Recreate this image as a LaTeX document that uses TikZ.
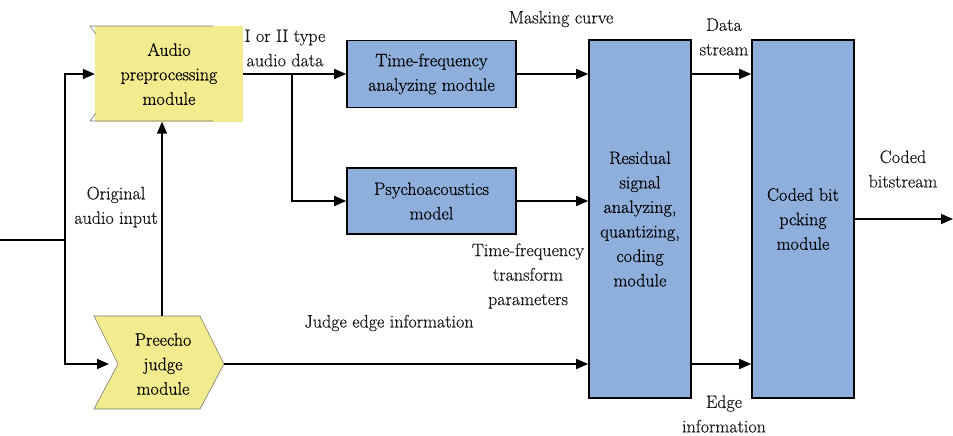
\documentclass[tikz,border=0pt]{standalone}
\usepackage{fontspec}
\newfontfamily\diagfont{Latin Modern Roman}[FakeBold=0.5]
\usetikzlibrary{arrows.meta}
\definecolor{padyellow}{RGB}{243,236,142}
\definecolor{modblue}{RGB}{142,174,219}
\definecolor{edgegray}{RGB}{120,120,120}
\begin{document}
\begin{tikzpicture}[x=1pt,y=-1pt,
  font=\diagfont\fontsize{18}{24.5}\selectfont,
  wire/.style={line width=1.6pt},
  flow/.style={line width=1.6pt, -{Triangle[length=12pt,width=10pt]}},
  bluebox/.style={draw=black, line width=1.6pt, fill=modblue, align=center, inner sep=0pt},
  lbl/.style={align=center, inner sep=0pt, text=black!90}]
\useasboundingbox (0,0) rectangle (953,436);

% audio preprocessing module (yellow pad with notched outline)
\node[fill=padyellow, minimum width=148, minimum height=95, inner sep=0pt, align=center] (pre) at (169,74) {Audio\\preprocessing\\module};
\draw[edgegray, line width=0.6pt] (90,26) -- (213,26) (90,121) -- (213,121)
  (90,26) -- (96,34) (90,121) -- (96,113);

% preecho judge module (chevron)
\draw[edgegray, line width=0.6pt, fill=padyellow]
  (94,316) -- (200,316) -- (224,364) -- (200,409) -- (94,409) -- (118,364) -- cycle;
\node[align=center, inner sep=0pt] (pj) at (163,364) {Preecho\\judge\\module};
\coordinate (pjL) at (118,364);
\coordinate (pjR) at (224,364);
\coordinate (pjT) at (162,316);

% blue modules
\node[bluebox, minimum width=169, minimum height=67] (tf) at (431.5,74) {Time-frequency\\analyzing module};
\node[bluebox, minimum width=169, minimum height=66] (pa) at (431.5,201) {Psychoacoustics\\model};
\node[bluebox, minimum width=102, minimum height=358] (res) at (640,219) {Residual\\signal\\analyzing,\\quantizing,\\coding\\module};
\node[bluebox, minimum width=102, minimum height=358] (cb) at (803,219) {Coded bit\\pcking\\module};

% connectors
\coordinate (in) at (0,240);
\coordinate (split) at (65,240);
\coordinate (br) at (292,74);
\coordinate (out) at (953,219);
\draw[wire] (in) -- (split);
\draw[flow] (split) |- (pre.west);
\draw[flow, shorten >=9pt] (split) |- (pjL);
\draw[flow] (pjT) -- (pjT |- pre.south);
\draw[flow] (pjR) -- (pjR -| res.west);
\draw[flow] (pre.east) -- (tf.west);
\draw[flow] (br) |- (pa.west);
\draw[flow] (tf.east) -- (tf.east -| res.west);
\draw[flow] (pa.east) -- (pa.east -| res.west);
\draw[flow] (res.east |- tf.east) -- (cb.west |- tf.east);
\draw[flow] (res.east |- pjR) -- (cb.west |- pjR);
\draw[flow] (cb.east) -- (out);

% labels
\node[lbl] (l1) at (285,48) {I or II type\\audio data};
\node[lbl] (l2) at (561,19) {Masking curve};
\node[lbl] (l3) at (724,37) {Data\\stream};
\node[lbl] (l4) at (116,207) {Original\\audio input};
\node[lbl] (l5) at (528,276) {Time-frequency\\transform\\parameters};
\node[lbl] (l6) at (389,323) {Judge edge information};
\node[lbl] (l7) at (724,414) {Edge\\information};
\node[lbl] (l8) at (903,169) {Coded\\bitstream};
\end{tikzpicture}
\end{document}
